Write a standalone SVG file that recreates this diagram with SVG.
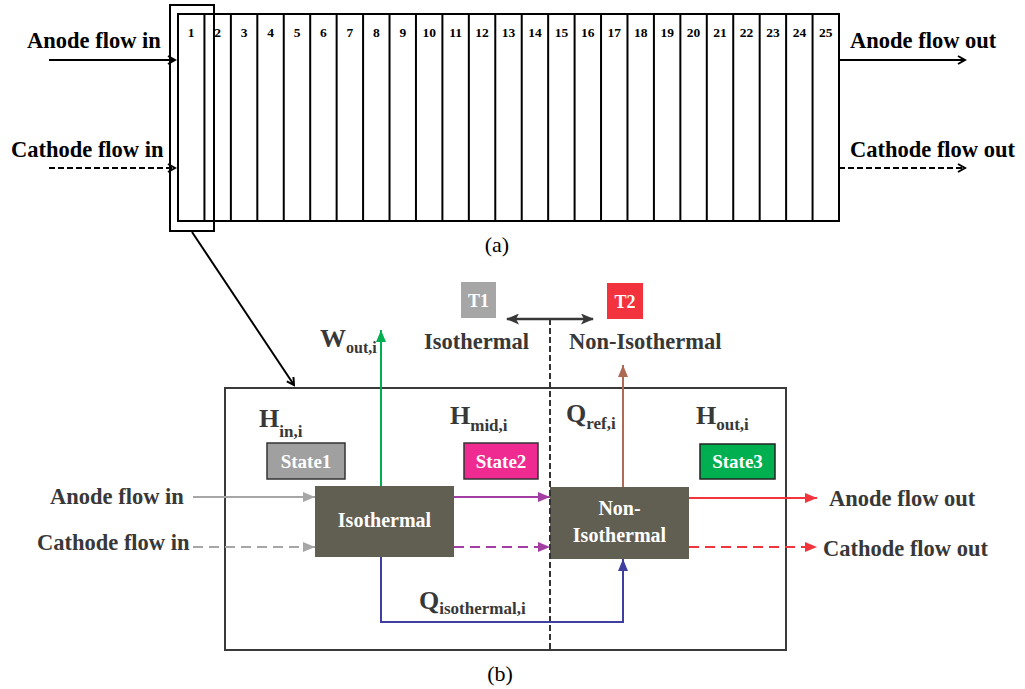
<svg xmlns="http://www.w3.org/2000/svg" width="1025" height="689" viewBox="0 0 1025 689">
  <style>
    .lbl { font-family: "Liberation Serif", "Times New Roman", serif; font-weight: bold; }
    .top { fill: #000; font-size: 22.5px; }
    .num { fill: #000; font-size: 13.5px; text-anchor: middle; }
    .dark { fill: #383838; font-size: 22.5px; }
    .big { fill: #383838; font-size: 26px; }
    .sub { font-size: 17px; }
    .white { fill: #fff; text-anchor: middle; }
    .cap { font-family: "Liberation Serif", "Times New Roman", serif; font-size: 22px; fill: #000; text-anchor: middle; }
    .blk { stroke: #000; stroke-width: 2; fill: none; }
    .frame { stroke: #3a3a3a; stroke-width: 2; fill: none; }
  </style>
  <defs>
    <marker id="chev" markerUnits="userSpaceOnUse" markerWidth="10" markerHeight="10" refX="8" refY="5" orient="auto">
      <path d="M1,1 L8,5 L1,9" fill="none" stroke="#000" stroke-width="2"/>
    </marker>
    <marker id="hGray" markerUnits="userSpaceOnUse" markerWidth="12" markerHeight="10" refX="12" refY="5" orient="auto">
      <path d="M0,0 L12,5 L0,10 z" fill="#a6a6a6"/>
    </marker>
    <marker id="hPurple" markerUnits="userSpaceOnUse" markerWidth="12" markerHeight="10" refX="12" refY="5" orient="auto">
      <path d="M0,0 L12,5 L0,10 z" fill="#a23ea2"/>
    </marker>
    <marker id="hRed" markerUnits="userSpaceOnUse" markerWidth="12" markerHeight="10" refX="12" refY="5" orient="auto">
      <path d="M0,0 L12,5 L0,10 z" fill="#f2353c"/>
    </marker>
    <marker id="hGreen" markerUnits="userSpaceOnUse" markerWidth="12" markerHeight="10" refX="12" refY="5" orient="auto">
      <path d="M0,0 L12,5 L0,10 z" fill="#00b050"/>
    </marker>
    <marker id="hBrown" markerUnits="userSpaceOnUse" markerWidth="12" markerHeight="10" refX="12" refY="5" orient="auto">
      <path d="M0,0 L12,5 L0,10 z" fill="#ad6a55"/>
    </marker>
    <marker id="hBlue" markerUnits="userSpaceOnUse" markerWidth="12" markerHeight="10" refX="12" refY="5" orient="auto">
      <path d="M0,0 L12,5 L0,10 z" fill="#3f3f9f"/>
    </marker>
    <marker id="hDark" markerUnits="userSpaceOnUse" markerWidth="13" markerHeight="11" refX="12" refY="5.5" orient="auto-start-reverse">
      <path d="M0,0 L13,5.5 L0,11 L3,5.5 z" fill="#383838"/>
    </marker>
  </defs>

  <!-- (a) stack of 25 cells -->
  <g id="cell-stack">
    <rect class="blk" x="178" y="14" width="661" height="207"/>
    <path class="blk" d="M204.44,14V221 M230.88,14V221 M257.32,14V221 M283.76,14V221 M310.2,14V221 M336.64,14V221 M363.08,14V221 M389.52,14V221 M415.96,14V221 M442.4,14V221 M468.84,14V221 M495.28,14V221 M521.72,14V221 M548.16,14V221 M574.6,14V221 M601.04,14V221 M627.48,14V221 M653.92,14V221 M680.36,14V221 M706.8,14V221 M733.24,14V221 M759.68,14V221 M786.12,14V221 M812.56,14V221"/>
    <g class="lbl num">
      <text x="191.2" y="37">1</text><text x="217.7" y="37">2</text><text x="244.1" y="37">3</text>
      <text x="270.5" y="37">4</text><text x="297" y="37">5</text><text x="323.4" y="37">6</text>
      <text x="349.9" y="37">7</text><text x="376.3" y="37">8</text><text x="402.8" y="37">9</text>
      <text x="429.2" y="37">10</text><text x="455.6" y="37">11</text><text x="482.1" y="37">12</text>
      <text x="508.5" y="37">13</text><text x="535" y="37">14</text><text x="561.4" y="37">15</text>
      <text x="587.8" y="37">16</text><text x="614.3" y="37">17</text><text x="640.7" y="37">18</text>
      <text x="667.2" y="37">19</text><text x="693.6" y="37">20</text><text x="720" y="37">21</text>
      <text x="746.5" y="37">22</text><text x="772.9" y="37">23</text><text x="799.4" y="37">24</text>
      <text x="825.8" y="37">25</text>
    </g>
  </g>

  <g id="cell1-highlight">
    <rect class="blk" x="170" y="5" width="44" height="226"/>
  </g>

  <g id="stack-labels" class="lbl top">
    <text x="27" y="48">Anode flow in</text>
    <text x="11" y="157">Cathode flow in</text>
    <text x="850" y="48">Anode flow out</text>
    <text x="850" y="157">Cathode flow out</text>
  </g>

  <text id="caption-a" class="cap" x="497" y="252">(a)</text>

  <!-- (b) single-cell energy balance -->
  <g id="cell-frame">
    <rect class="frame" x="225" y="388" width="561" height="262"/>
  </g>

  <g id="t1">
    <rect x="461" y="282" width="35" height="36" fill="#a6a6a6"/>
    <text class="lbl white" x="478.5" y="307" font-size="18">T1</text>
  </g>
  <g id="t2">
    <rect x="607" y="283" width="36" height="36" fill="#f2323c"/>
    <text class="lbl white" x="625" y="308" font-size="18">T2</text>
  </g>

  <g id="region-labels" class="lbl dark">
    <text x="424" y="349">Isothermal</text>
    <text x="569" y="349">Non-Isothermal</text>
  </g>

  <g id="state1">
    <text class="lbl big" x="259" y="427">H<tspan class="sub" dy="10">in,i</tspan></text>
    <rect x="267" y="443" width="78" height="36" fill="#a0a0a0" stroke="#333" stroke-width="1.5"/>
    <text class="lbl white" x="306" y="468" font-size="19">State1</text>
  </g>
  <g id="state2">
    <text class="lbl big" x="450" y="424">H<tspan class="sub" dy="7">mid,i</tspan></text>
    <rect x="464" y="443" width="74" height="36" fill="#ef2a90" stroke="#333" stroke-width="1.5"/>
    <text class="lbl white" x="501" y="468" font-size="19">State2</text>
  </g>
  <g id="state3">
    <text class="lbl big" x="696" y="424">H<tspan class="sub" dy="6">out,i</tspan></text>
    <rect x="700" y="444" width="75" height="35" fill="#00b050" stroke="#222" stroke-width="1.5"/>
    <text class="lbl white" x="737.5" y="468" font-size="19">State3</text>
  </g>

  <g id="isothermal-block">
    <rect x="315" y="486" width="139" height="71" fill="#615e52"/>
    <text class="lbl white" x="384.5" y="527" font-size="20">Isothermal</text>
  </g>
  <g id="non-isothermal-block">
    <rect x="550" y="487" width="139" height="72" fill="#615e52"/>
    <text class="lbl white" x="619.5" y="515" font-size="20">Non-</text>
    <text class="lbl white" x="619.5" y="542" font-size="20">Isothermal</text>
  </g>

  <g id="flow-labels" class="lbl dark">
    <text x="50" y="504">Anode flow in</text>
    <text x="37" y="550">Cathode flow in</text>
    <text x="829" y="506">Anode flow out</text>
    <text x="823" y="556">Cathode flow out</text>
  </g>

  <g id="energy-labels" class="lbl big">
    <text x="320" y="347">W<tspan font-size="16" dy="6">out,i</tspan></text>
    <text x="566" y="422">Q<tspan class="sub" dy="7">ref,i</tspan></text>
    <text x="419" y="609">Q<tspan class="sub" dy="5">isothermal,i</tspan></text>
  </g>

  <text id="caption-b" class="cap" x="500" y="681">(b)</text>

  <g id="connectors" fill="none">
    <!-- stack in/out flows -->
    <line x1="49" y1="60" x2="175" y2="60" stroke="#000" stroke-width="2" marker-end="url(#chev)"/>
    <line x1="49" y1="168" x2="175" y2="168" stroke="#000" stroke-width="2" stroke-dasharray="6,3" marker-end="url(#chev)"/>
    <line x1="839" y1="60" x2="965" y2="60" stroke="#000" stroke-width="2" marker-end="url(#chev)"/>
    <line x1="839" y1="168" x2="965" y2="168" stroke="#000" stroke-width="2" stroke-dasharray="6,3" marker-end="url(#chev)"/>
    <!-- zoom from cell 1 to detail -->
    <line x1="192" y1="232" x2="294" y2="385" stroke="#000" stroke-width="2" marker-end="url(#chev)"/>

    <!-- isothermal / non-isothermal divider -->
    <line x1="550" y1="319" x2="550" y2="650" stroke="#333" stroke-width="2" stroke-dasharray="6,3"/>
    <line x1="507" y1="319" x2="593" y2="319" stroke="#383838" stroke-width="2.5" marker-start="url(#hDark)" marker-end="url(#hDark)"/>

    <!-- inlet flows -->
    <line x1="193" y1="497" x2="315" y2="497" stroke="#a6a6a6" stroke-width="2" marker-end="url(#hGray)"/>
    <line x1="193" y1="547" x2="315" y2="547" stroke="#a6a6a6" stroke-width="2" stroke-dasharray="10,6" marker-end="url(#hGray)"/>
    <!-- intermediate flows -->
    <line x1="454" y1="497" x2="550" y2="497" stroke="#a23ea2" stroke-width="2" marker-end="url(#hPurple)"/>
    <line x1="454" y1="547" x2="550" y2="547" stroke="#a23ea2" stroke-width="2" stroke-dasharray="10,6" marker-end="url(#hPurple)"/>
    <!-- outlet flows -->
    <line x1="689" y1="498" x2="817" y2="498" stroke="#f2353c" stroke-width="2" marker-end="url(#hRed)"/>
    <line x1="689" y1="547" x2="817" y2="547" stroke="#f2353c" stroke-width="2" stroke-dasharray="10,6" marker-end="url(#hRed)"/>
    <!-- work output -->
    <line x1="381" y1="486" x2="381" y2="330" stroke="#00b050" stroke-width="2" marker-end="url(#hGreen)"/>
    <!-- heat rejected -->
    <line x1="623" y1="487" x2="623" y2="365" stroke="#ad6a55" stroke-width="2" marker-end="url(#hBrown)"/>
    <!-- isothermal heat to non-isothermal stage -->
    <polyline points="381,557 381,622 623,622 623,559" stroke="#3f3f9f" stroke-width="2" marker-end="url(#hBlue)"/>
  </g>
</svg>
